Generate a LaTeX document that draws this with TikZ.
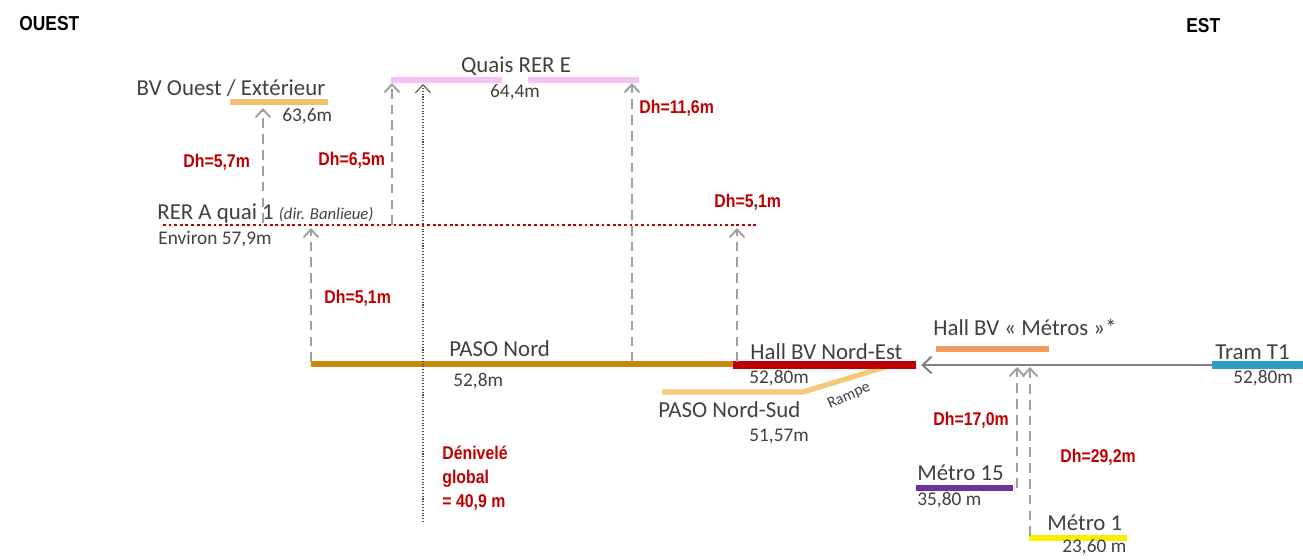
\documentclass[tikz,border=0pt]{standalone}
\usepackage{fontspec}
\setmainfont{Carlito}
\newfontfamily\narrowb[FakeStretch=0.86]{Liberation Sans}
\usetikzlibrary{arrows.meta}
\definecolor{txt}{HTML}{404040}
\definecolor{dhred}{HTML}{C00000}
\definecolor{paso}{HTML}{C8880F}
\definecolor{bvo}{HTML}{F2C06E}
\definecolor{pns}{HTML}{F5C87A}
\definecolor{pink}{HTML}{F5C3F5}
\definecolor{hbm}{HTML}{F29B5F}
\definecolor{tram}{HTML}{2F9DC4}
\definecolor{purp}{HTML}{7030A0}
\definecolor{yel}{HTML}{F8F000}
\definecolor{dgray}{HTML}{A0A0A0}
\definecolor{hgray}{HTML}{808080}
\tikzset{
  big/.style={font=\fontsize{13}{15}\selectfont, text=txt, inner sep=0pt},
  small/.style={font=\fontsize{11}{13}\selectfont, text=txt, inner sep=0pt},
  dh/.style={font=\narrowb\bfseries\fontsize{10.5}{13.5}\selectfont, text=dhred, inner sep=0pt},
  card/.style={font=\narrowb\bfseries\fontsize{11.5}{13}\selectfont, text=black, inner sep=0pt},
  bar/.style={line width=3pt},
  dasharrow/.style={draw=dgray, line width=1.1pt, dash pattern=on 5.5pt off 3.5pt,
     -{Straight Barb[length=1.6mm,width=3mm]}},
  dotarrow/.style={draw=black!70, line width=0.6pt, densely dotted,
     -{Straight Barb[length=1.6mm,width=3mm]}},
  harrow/.style={draw=hgray, line width=1.1pt, -{Straight Barb[length=1.8mm,width=3.4mm]}},
}
\begin{document}
\begin{tikzpicture}[x=0.02cm,y=-0.02cm]
\useasboundingbox (0,0) rectangle (1303,559);
% headings
\node[card, anchor=west] (ouest) at (19,24) {OUEST};
\node[card, anchor=west] (est) at (1186,26) {EST};

% BV Ouest
\draw[bvo, bar] (230,102) coordinate (bvoW) -- (328,102) coordinate (bvoE);
\node[big, anchor=base] (bvoT) at (231,95) {BV Ouest / Extérieur};
\node[small, anchor=base west] (bvoV) at (282,121) {63,6m};

% Quais RER E
\draw[pink, line width=3.5pt] (391,80) coordinate (qeW) -- (502,80);
\draw[pink, line width=3.5pt] (528,80) -- (639,80) coordinate (qeE);
\node[big, anchor=base] (qeT) at (516,72) {Quais RER E};
\node[small, anchor=base] (qeV) at (515,97) {64,4m};

% RER A
\draw[dhred, line width=1.6pt, dash pattern=on 1.6pt off 1.6pt] (163,225) coordinate (raW) -- (757,225) coordinate (raE);
\node[big, anchor=base west] (raT) at (157,219) {RER A quai 1 \textit{\fontsize{9.5}{11}\selectfont(dir. Banlieue)}};
\node[small, anchor=base west] (raV) at (158,244) {Environ 57,9m};

% PASO Nord
\draw[paso, bar] (311,364) coordinate (pnW) -- (735,364) coordinate (pnE);
\node[big, anchor=base west] (pnT) at (449,356) {PASO Nord};
\node[small, anchor=base west] (pnV) at (453,386) {52,8m};

% PASO Nord-Sud
\draw[pns, bar] (662,392) coordinate (pnsW) -- (803,392) -- (885,367) coordinate (pnsE);
\node[big, anchor=base west] (pnsT) at (658,417) {PASO Nord-Sud};
\node[small, anchor=base west] (pnsV) at (749,441) {51,57m};
\node[font=\fontsize{9}{10}\selectfont, text=txt, inner sep=0pt, rotate=24] (rampe) at (849,396) {Rampe};

% Hall BV Nord-Est
\draw[dhred, line width=4.2pt] (733,365) coordinate (hneW) -- (916,365) coordinate (hneE);
\node[big, anchor=base west] (hneT) at (750,359) {Hall BV Nord-Est};
\node[small, anchor=base west] (hneV) at (749,383) {52,80m};

% Hall BV Metros
\draw[hbm, bar] (936,349) coordinate (hbmW) -- (1049,349) coordinate (hbmE);
\node[big, anchor=base west] (hbmT) at (933,335) {Hall BV « Métros »*};

% Tram T1
\draw[tram, line width=4.2pt] (1212,365) coordinate (tramW) -- (1303,365) coordinate (tramE);
\node[big, anchor=base west] (tramT) at (1215,359) {Tram T1};
\node[small, anchor=base west] (tramV) at (1233,383) {52,80m};

% Metro 15
\draw[purp, bar] (916,488) coordinate (m15W) -- (1013,488) coordinate (m15E);
\node[big, anchor=base west] (m15T) at (917,480) {Métro 15};
\node[small, anchor=base west] (m15V) at (917,505) {35,80 m};

% Metro 1
\draw[yel, bar] (1029,538) coordinate (m1W) -- (1127,538) coordinate (m1E);
\node[big, anchor=base west] (m1T) at (1047,530) {Métro 1};
\node[small, anchor=base west] (m1V) at (1062,552) {23,60 m};

% connectors
\coordinate (a1s) at (263,223); \coordinate (a1e) at (263,108);
\draw[dasharrow] (a1s) -- (a1e);
\coordinate (a2s) at (392,225); \coordinate (a2e) at (392,83);
\draw[dasharrow] (a2s) -- (a2e);
\coordinate (a3s) at (311,362); \coordinate (a3e) at (311,228);
\draw[dasharrow] (a3s) -- (a3e);
\coordinate (a4s) at (632,362); \coordinate (a4e) at (632,83);
\draw[dasharrow] (a4s) -- (a4e);
\coordinate (a5s) at (737,362); \coordinate (a5e) at (737,228);
\draw[dasharrow] (a5s) -- (a5e);
\coordinate (a6s) at (1017,488); \coordinate (a6e) at (1017,367);
\draw[dasharrow] (a6s) -- (a6e);
\coordinate (a7s) at (1030,536); \coordinate (a7e) at (1030,367);
\draw[dasharrow] (a7s) -- (a7e);
\coordinate (gs) at (423,522); \coordinate (ge) at (423,84);
\draw[dotarrow] (gs) -- (ge);
\draw[harrow] (tramW) -- ([xshift=3]hneE);

% Dh labels
\node[dh, anchor=west] (dh1) at (183,162) {Dh=5,7m};
\node[dh, anchor=west] (dh2) at (318,160) {Dh=6,5m};
\node[dh, anchor=west] (dh3) at (639,108) {Dh=11,6m};
\node[dh, anchor=west] (dh4) at (714,202) {Dh=5,1m};
\node[dh, anchor=west] (dh5) at (324,298) {Dh=5,1m};
\node[dh, anchor=west] (dh6) at (933,420) {Dh=17,0m};
\node[dh, anchor=west] (dh7) at (1060,457) {Dh=29,2m};
\node[dh, anchor=north west, align=left] (den) at (442,446) {Dénivelé\\global\\= 40,9 m};
\end{tikzpicture}
\end{document}
